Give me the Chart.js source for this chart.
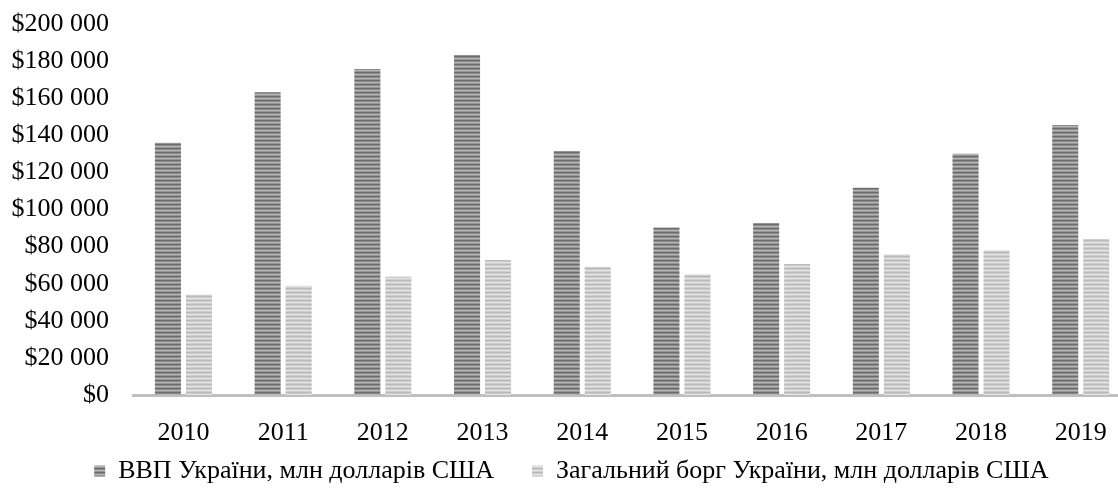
<!DOCTYPE html>
<html>
<head>
<meta charset="utf-8">
<script src="https://cdn.jsdelivr.net/npm/chart.js@4.4.0/dist/chart.umd.min.js"></script>
<style>
    html, body { margin: 0; padding: 0; background: #fff; overflow: hidden; }
    #wrap { width: 1136px; height: 495px; position: relative; }
</style>
</head>
<body>
<div id="wrap"><canvas id="debt-chart"></canvas></div>
<script>
const years = ['2010', '2011', '2012', '2013', '2014', '2015', '2016', '2017', '2018', '2019'];
const gdpValues = [136000, 163200, 175800, 183300, 131600, 90300, 92700, 111700, 130000, 145500];
const debtValues = [54200, 58900, 63800, 72800, 69200, 65100, 70600, 75900, 78000, 84100];
const seriesNames = ['ВВП України, млн долларів США', 'Загальний борг України, млн долларів США'];
const yTicks = { min: 0, max: 200000, step: 20000 };

// striped fill like the excel texture
function stripes(rows) {
    const c = document.createElement('canvas');
    c.width = 4;
    c.height = rows.length;
    const cx = c.getContext('2d');
    rows.forEach((col, i) => {
        cx.fillStyle = col;
        cx.fillRect(0, i, 4, 1);
    });
    return cx.createPattern(c, 'repeat');
}

const darkFill = stripes(['#6c6c6c', '#898989', '#b6b6b6', '#959595']);
const lightFill = stripes(['#bababa', '#cacaca', '#e5e5e5', '#cfcfcf']);

const font = { family: "'Liberation Serif', 'Times New Roman', serif", size: 26 };

// nudge the legend, excel puts it a little off centre
const legendShift = {
    id: 'legendShift',
    afterLayout(chart) {
        const lg = chart.legend;
        lg.left += 6;
        lg.right += 6;
        lg.top -= 25;
        lg.bottom -= 25;
    }
};

const ctx = document.getElementById('debt-chart');
new Chart(ctx, {
    type: 'bar',
    data: {
        labels: years,
        datasets: [{
            label: seriesNames[0],
            data: gdpValues,
            backgroundColor: darkFill,
            categoryPercentage: 0.622,
            barPercentage: 0.84
        }, {
            label: seriesNames[1],
            data: debtValues,
            backgroundColor: lightFill,
            categoryPercentage: 0.622,
            barPercentage: 0.84
        }]
    },
    options: {
        responsive: true,
        maintainAspectRatio: false,
        animation: false,
        // negative bottom so the big legend padding doesn't squeeze the plot
        layout: { padding: { top: 24, right: 5.4, bottom: -24, left: 0 } },
        scales: {
            x: {
                grid: { display: false, drawTicks: false },
                border: { display: true, color: '#bfbfbf', width: 3 },
                ticks: { color: '#000', font: font, padding: 23, maxRotation: 0 },
                afterFit: axis => {
                    axis.height = 50;
                    axis.paddingLeft = 0;
                    axis.paddingRight = 0;
                }
            },
            y: {
                min: yTicks.min,
                max: yTicks.max,
                grid: { display: false, drawTicks: false },
                border: { display: false },
                ticks: {
                    stepSize: yTicks.step,
                    color: '#000',
                    font: font,
                    padding: 24.6,
                    callback: v => '$' + v.toLocaleString('en-US').replace(/,/g, ' ')
                },
                afterFit: axis => {
                    axis.width = 133.6;
                    axis.paddingTop = 0;
                    axis.paddingBottom = 0;
                }
            }
        },
        plugins: {
            tooltip: { enabled: false },
            legend: {
                position: 'bottom',
                labels: {
                    color: '#000',
                    font: font,
                    boxWidth: 11,
                    boxHeight: 11,
                    padding: 38
                }
            }
        }
    },
    plugins: [legendShift]
});
</script>
</body>
</html>
